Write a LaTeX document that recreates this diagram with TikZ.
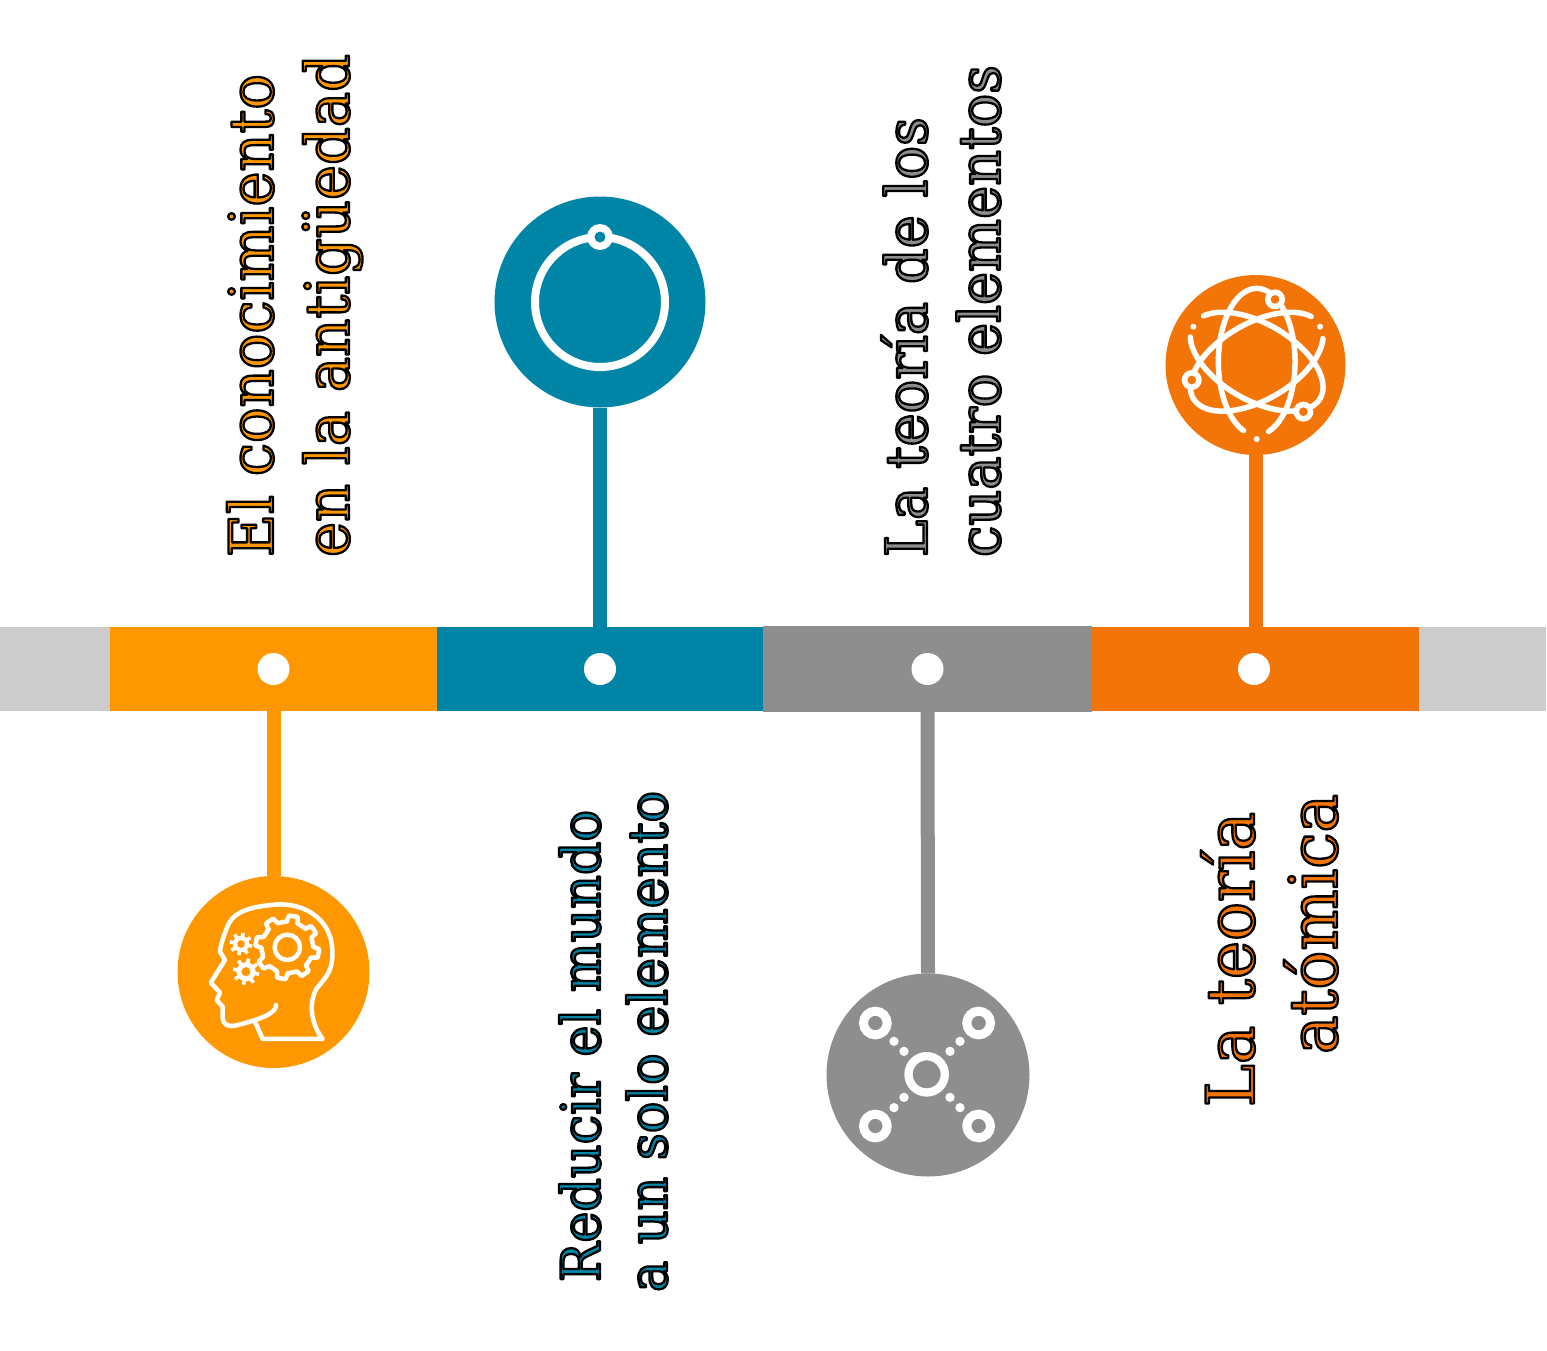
\documentclass[tikz,border=0pt]{standalone}
\usepackage{fontspec}
\setmainfont[FakeStretch=0.97]{DejaVu Serif}
\definecolor{corange}{HTML}{FF9800}
\definecolor{cteal}{HTML}{0085A6}
\definecolor{cgray}{HTML}{8E8E8E}
\definecolor{cdark}{HTML}{F47507}
\definecolor{clight}{HTML}{CCCCCC}
\newcommand{\outlon}{\special{pdf:code 2 Tr 2.3 w 1 j 0 0 0 RG}}
\newcommand{\outloff}{\special{pdf:code 0 Tr 0 j}}
\newcommand{\geartrace}[6]{% cx cy rin rout n width
  \foreach \k in {1,...,#5}{
    \pgfmathsetmacro{\aa}{\k*360/#5+11}
    \pgfmathsetmacro{\pp}{360/#5}
    \draw[iconline,line width=#6] ($(#1,#2)+(\aa-\pp*0.27:#3)$) -- ($(#1,#2)+(\aa-\pp*0.17:#4)$) -- ($(#1,#2)+(\aa+\pp*0.17:#4)$) -- ($(#1,#2)+(\aa+\pp*0.27:#3)$) -- ($(#1,#2)+(\aa+\pp*0.73:#3)$);
  }}
\newcommand{\smallgear}[3]{% cx cy outer radius
  \fill[white] (#1,#2) circle[radius=#3*0.72];
  \fill[corange] (#1,#2) circle[radius=#3*0.34];
  \foreach \k in {0,45,...,315}
    \draw[white,line width=3.6pt] ($(#1,#2)+(\k+11:#3*0.6)$) -- ($(#1,#2)+(\k+11:#3)$);
}
\usetikzlibrary{calc}
\tikzset{
  x=1pt,y=-1pt,
  seg/.style={rectangle,draw=none,fill=#1,inner sep=0pt,outer sep=0pt},
  hub/.style={circle,draw=none,fill=#1,inner sep=0pt,outer sep=0pt},
  spot/.style={circle,fill=white,draw=none,inner sep=0pt,outer sep=0pt,minimum size=32pt},
  stem/.style={draw=#1,line width=14pt},
  iconline/.style={draw=white,line width=4.5pt,line cap=round,line join=round},
  lbl/.style={rotate=90,anchor=base west,inner sep=0pt,outer sep=0pt,align=left,text=#1},
}
\begin{document}
\begin{tikzpicture}
\useasboundingbox (0,0) rectangle (1547,1350);
% bar
\node[seg=clight,minimum width=110.5pt,minimum height=84pt] (barl) at (55.25,669) {};
\node[seg=clight,minimum width=127.5pt,minimum height=84pt] (barr) at (1482.5,669) {};
\node[seg=corange,minimum width=327pt,minimum height=84pt] (s1) at (273.5,669) {};
\node[seg=cteal,minimum width=326pt,minimum height=84pt] (s2) at (600,669) {};
\node[seg=cdark,minimum width=327pt,minimum height=84pt] (s4) at (1255.5,669) {};
\node[seg=cgray,minimum width=329pt,minimum height=86pt] (s3) at (927.5,669) {};
\node[spot] (d1) at (273.5,669) {};
\node[spot] (d2) at (600,669) {};
\node[spot] (d3) at (927.5,669) {};
\node[spot] (d4) at (1254,669) {};
% hubs
\node[hub=corange,minimum size=192pt] (c1) at (273.5,972) {};
\node[hub=cteal,minimum size=211pt] (c2) at (600,302) {};
\node[hub=cgray,minimum size=203pt] (c3) at (928,1075) {};
\node[hub=cdark,minimum size=180pt] (c4) at (1255.5,365) {};
\draw[stem=corange] (s1.south) -- (c1.north);
\draw[stem=cteal] (s2.north) -- (c2.south);
\draw[stem=cgray] (s3.south) -- (c3.north);
\draw[stem=cdark] (s4.north) -- (c4.south);
% teal icon
\draw[white,line width=8pt] (600,302) circle[radius=65];
\fill[white] (600,237) circle[radius=13];
\fill[cteal] (600,237) circle[radius=5.5];
% head icon
\begin{scope}[shift={(170,870)},x=0.3333pt,y=-0.3333pt]
\draw[iconline] (255,455) -- (278,507) -- (458,507) .. controls (430,470) and (410,410) .. (440,355)
 .. controls (470,320) and (490,300) .. (487,240) .. controls (485,160) and (420,103) .. (330,103)
 .. controls (240,108) and (190,125) .. (172,170) .. controls (160,200) and (152,225) .. (150,245)
 -- (165,270) -- (122,338) -- (150,368) -- (140,390) -- (158,410) -- (158,445)
 .. controls (160,465) and (175,472) .. (200,466) .. controls (270,448) and (320,430) .. (318,405);
\draw[iconline] (352,232) circle[radius=38];
\geartrace{352}{232}{78}{96}{8}{4.5pt}
\smallgear{213}{222}{34}
\smallgear{228}{305}{40}
\end{scope}
% gray icon
\begin{scope}[shift={(820,965)},x=0.3333pt,y=-0.3333pt]
\draw[white,line width=8.3pt] (320,328) circle[radius=54.5];
\foreach \p in {(166,174),(476,174),(166,483),(476,483)}
  \draw[white,line width=9pt] \p circle[radius=35.5];
\foreach \p in {(222,229),(252,259),(420,229),(390,259),(252,397),(222,428),(390,397),(420,428)}
  \fill[white] \p circle[radius=14];
\end{scope}
% atom icon
\begin{scope}[shift={(1256.7,361.7)},x=0.3333pt,y=0.3333pt]
\foreach \r in {0,120,240}
  \draw[iconline,line width=5.5pt,rotate=\r] plot[smooth,domain=-72:250,samples=90] ({115*cos(\x)},{220*sin(\x)});
\foreach \p in {(55,187),(-195,-55),(140,-150)}{
  \fill[white] \p circle[radius=30];
  \fill[cdark] \p circle[radius=13];
}
\foreach \p in {(-190,105),(190,105),(0,-232)}
  \fill[white] \p circle[radius=9];
\end{scope}
% labels
\node[lbl=corange,font=\fontsize{61}{76}\selectfont] (t1) at (349,557) {\outlon El conocimiento\\en la antigüedad\outloff};
\node[lbl=cteal,font=\fontsize{54}{67}\selectfont] (t2) at (667,1292) {\outlon \hspace*{10pt}Reducir el mundo\\a un solo elemento\outloff};
\node[lbl=cgray,font=\fontsize{57.6}{73}\selectfont] (t3) at (1000,557) {\outlon La teoría de los\\cuatro elementos\outloff};
\node[lbl=cdark,font=\fontsize{66.6}{83}\selectfont] (t4) at (1337,1054) {\outlon \hspace*{-53pt}La teoría\\atómica\outloff};
\end{tikzpicture}
\end{document}
